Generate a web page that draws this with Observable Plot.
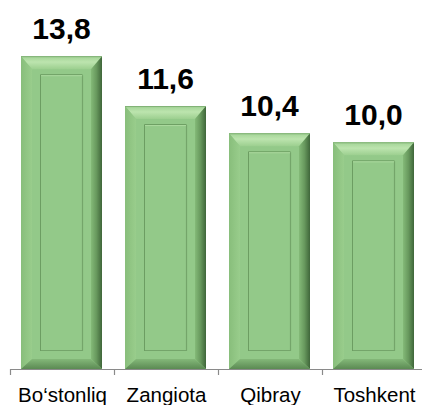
<!DOCTYPE html>
<html>
<head>
<meta charset="utf-8">
<script src="https://cdn.jsdelivr.net/npm/d3@7"></script>
<script src="https://cdn.jsdelivr.net/npm/@observablehq/plot@0.6"></script>
<style>
  html, body { margin: 0; padding: 0; background: #fff; }
  #chart { width: 422px; height: 405px; overflow: hidden; }
</style>
</head>
<body>
<div id="chart"></div>
<script>
const categories = ["Bo\u2018stonliq", "Zangiota", "Qibray", "Toshkent"];
const values = [13.8, 11.6, 10.4, 10.0];
const labels = ["13,8", "11,6", "10,4", "10,0"];

const data = categories.map((c, i) => ({category: c, value: values[i], label: labels[i]}));

const W = 422, H = 405;
const marginLeft = 10, marginRight = -4;
const halfBand = (W - marginLeft - marginRight) / categories.length / 2;

function bevelRender(index, scales, vals, dims, context, next) {
  const g = next(index, scales, vals, dims, context);
  const rects = Array.from(g.querySelectorAll("rect"));
  const out = d3.create("svg:g");
  const defs = out.append("defs");
  const gr = defs.append("linearGradient").attr("id", "bvRight").attr("x1", 0).attr("x2", 1).attr("y1", 0).attr("y2", 0);
  gr.append("stop").attr("offset", 0).attr("stop-color", "#84ba78");
  gr.append("stop").attr("offset", 0.5).attr("stop-color", "#67985d");
  gr.append("stop").attr("offset", 1).attr("stop-color", "#3f663a");
  const gt = defs.append("linearGradient").attr("id", "bvTop").attr("x1", 0).attr("x2", 0).attr("y1", 0).attr("y2", 1);
  gt.append("stop").attr("offset", 0).attr("stop-color", "#a2d395");
  gt.append("stop").attr("offset", 0.45).attr("stop-color", "#bce4ae");
  gt.append("stop").attr("offset", 1).attr("stop-color", "#9ccf8f");
  const gl = defs.append("linearGradient").attr("id", "bvLeft").attr("x1", 0).attr("x2", 1).attr("y1", 0).attr("y2", 0);
  gl.append("stop").attr("offset", 0).attr("stop-color", "#88be7b");
  gl.append("stop").attr("offset", 1).attr("stop-color", "#99cd8c");
  const gb = defs.append("linearGradient").attr("id", "bvBottom").attr("x1", 0).attr("x2", 0).attr("y1", 0).attr("y2", 1);
  gb.append("stop").attr("offset", 0).attr("stop-color", "#84b879");
  gb.append("stop").attr("offset", 1).attr("stop-color", "#5b8a53");

  const s = 11, t = 13, bb = 10, inX = 19, inT = 18, inB = 18;
  for (const r of rects) {
    const x = +r.getAttribute("x"), y = +r.getAttribute("y");
    const w = +r.getAttribute("width"), h = +r.getAttribute("height");
    const b = y + h;
    const pts = a => a.map(p => p.join(",")).join(" ");
    const bar = out.append("g");
    bar.append("rect").attr("x", x).attr("y", y).attr("width", w).attr("height", h).attr("fill", "#93c989");
    bar.append("rect").attr("x", x + s).attr("y", y + t).attr("width", w - 2 * s).attr("height", h - t - bb).attr("fill", "#93c989");
    bar.append("polygon").attr("points", pts([[x, y], [x + w, y], [x + w - s, y + t], [x + s, y + t]])).attr("fill", "url(#bvTop)");
    bar.append("polygon").attr("points", pts([[x, y], [x + s, y + t], [x + s, b - bb], [x, b]])).attr("fill", "url(#bvLeft)");
    bar.append("polygon").attr("points", pts([[x + w, y], [x + w, b], [x + w - s, b - bb], [x + w - s, y + t]])).attr("fill", "url(#bvRight)");
    bar.append("polygon").attr("points", pts([[x, b], [x + s, b - bb], [x + w - s, b - bb], [x + w, b]])).attr("fill", "url(#bvBottom)");
    bar.append("line").attr("x1", x).attr("x2", x + w).attr("y1", y + 0.5).attr("y2", y + 0.5).attr("stroke", "#80b075").attr("stroke-width", 1);
    const ix = x + inX, iy = y + inT, iw = w - 2 * inX, ih = h - inT - inB;
    bar.append("rect").attr("x", ix).attr("y", iy).attr("width", iw).attr("height", ih).attr("fill", "#93c989");
    bar.append("polyline").attr("points", pts([[ix + 0.5, iy + ih], [ix + 0.5, iy + 0.5], [ix + iw - 0.5, iy + 0.5]]))
      .attr("fill", "none").attr("stroke", "#6c9d62").attr("stroke-width", 1);
    bar.append("polyline").attr("points", pts([[ix + iw - 0.5, iy + 1], [ix + iw - 0.5, iy + ih - 0.5], [ix + 1, iy + ih - 0.5]]))
      .attr("fill", "none").attr("stroke", "#74a56a").attr("stroke-width", 1.2);
    bar.append("line").attr("x1", ix + 1).attr("x2", ix + iw - 1).attr("y1", iy + 1.5).attr("y2", iy + 1.5)
      .attr("stroke", "#acd99f").attr("stroke-width", 1);
  }
  return out.node();
}

const chart = Plot.plot({
  width: W,
  height: H,
  marginLeft,
  marginRight,
  marginTop: 29,
  marginBottom: 36,
  style: {fontFamily: "'Liberation Sans', Arial, sans-serif", background: "#fff", overflow: "hidden"},
  x: {domain: categories, padding: 0, label: null},
  y: {domain: [0, 15], axis: null},
  marks: [
    Plot.barY(data, {x: "category", y: "value", insetLeft: 11, insetRight: 12, fill: "#93c989", render: bevelRender}),
    Plot.ruleY([0], {stroke: "#8a8a8a", strokeWidth: 1.2}),
    Plot.ruleX(categories, {x: d => d, y1: 0, y2: 0, dx: -halfBand, insetTop: 0, insetBottom: -6, stroke: "#8a8a8a", strokeWidth: 1.2}),
    Plot.axisX({tickSize: 0, tickPadding: 18, fontSize: 20.5, fill: "#000", label: null}),
    Plot.text(data, {x: "category", y: "value", text: "label", dy: -18, lineAnchor: "bottom", fontSize: 30, fontWeight: "bold", fill: "#000", dx: -1})
  ]
});
document.getElementById("chart").appendChild(chart);
</script>
</body>
</html>
